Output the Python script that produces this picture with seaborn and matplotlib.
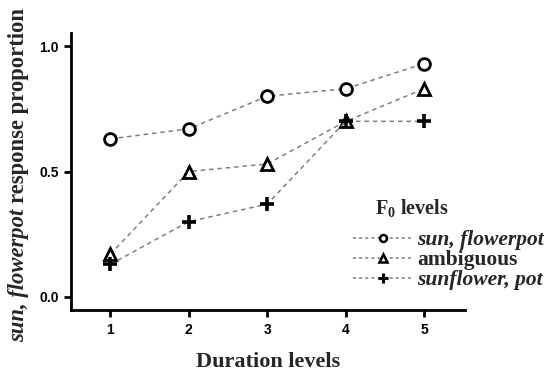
import matplotlib
matplotlib.use("Agg")
import matplotlib.pyplot as plt
import seaborn as sns
import pandas as pd
from matplotlib.lines import Line2D

durations = [1, 2, 3, 4, 5]
sun_flowerpot = [0.63, 0.67, 0.80, 0.83, 0.93]
ambiguous = [0.17, 0.50, 0.53, 0.70, 0.83]
sunflower_pot = [0.13, 0.30, 0.37, 0.70, 0.70]
y_ticks = [0.0, 0.5, 1.0]
y_tick_labels = ["0.0", "0.5", "1.0"]
series_names = ["sun, flowerpot", "ambiguous", "sunflower, pot"]

sns.set_theme(style="ticks")
plt.rcParams["font.family"] = ["Liberation Sans", "DejaVu Sans"]
plt.rcParams["mathtext.fontset"] = "custom"
plt.rcParams["mathtext.it"] = "Liberation Serif:italic:bold"
plt.rcParams["mathtext.rm"] = "Liberation Serif:bold"
plt.rcParams["mathtext.bf"] = "Liberation Serif:bold"

W, H = 544, 374
fig = plt.figure(figsize=(W/100, H/100), dpi=100)
ax = fig.add_axes([71/W, 1-310/H, (465-71)/W, (310-33)/H])

markers = {"sun, flowerpot": "o", "ambiguous": "^", "sunflower, pot": "+"}
values = {"sun, flowerpot": sun_flowerpot, "ambiguous": ambiguous,
          "sunflower, pot": sunflower_pot}
for name in series_names:
    df = pd.DataFrame({"x": durations, "y": values[name]})
    mk = markers[name]
    kw = dict(color="#808080", linestyle=(0, (3, 2.5)), linewidth=1.1,
              marker=mk, markeredgecolor="black", legend=False)
    if mk == "+":
        kw.update(markersize=10, markeredgewidth=2.6)
    else:
        kw.update(markersize=8.5, markeredgewidth=2.0, markerfacecolor="white")
    sns.lineplot(data=df, x="x", y="y", ax=ax, **kw)

ax.set_xlim(0.5, 5.52)
ax.set_ylim(-0.052, 1.052)
ax.set_xticks(durations)
ax.set_xticklabels([str(d) for d in durations], fontweight="bold", fontsize=10)
ax.set_yticks(y_ticks)
ax.set_yticklabels(y_tick_labels, fontweight="bold", fontsize=10)
for s in ["top", "right"]:
    ax.spines[s].set_visible(False)
for s in ["left", "bottom"]:
    ax.spines[s].set_linewidth(2)
    ax.spines[s].set_color("black")
ax.tick_params(axis="both", direction="out", length=5, width=2, colors="black", pad=4)

ax.set_xlabel("Duration levels", fontfamily="Liberation Serif", fontweight="bold",
              fontsize=16, labelpad=11)
ax.set_ylabel("")

# y label in two parts (italic + regular, both bold)
fig.canvas.draw()
renderer = fig.canvas.get_renderer()
xb = 24 / W
t1 = fig.text(xb, 1 - 342/H, "sun, flowerpot", rotation=90, rotation_mode="anchor",
              ha="left", va="baseline", fontfamily="Liberation Serif",
              fontweight="bold", fontstyle="italic", fontsize=16.3)
ext = t1.get_window_extent(renderer)
t2 = fig.text(xb, (ext.y1 + 6) / H, "response proportion", rotation=90,
              rotation_mode="anchor", ha="left", va="baseline",
              fontfamily="Liberation Serif", fontweight="bold", fontsize=16.3)

handles = [
    Line2D([], [], color="#808080", linestyle=(0, (2, 2)), linewidth=1.1,
           marker="o", markersize=5, markeredgewidth=1.8,
           markeredgecolor="black", markerfacecolor="white"),
    Line2D([], [], color="#808080", linestyle=(0, (2, 2)), linewidth=1.1,
           marker="^", markersize=5.5, markeredgewidth=1.8,
           markeredgecolor="black", markerfacecolor="white"),
    Line2D([], [], color="#808080", linestyle=(0, (2, 2)), linewidth=1.1,
           marker="+", markersize=7, markeredgewidth=2.2,
           markeredgecolor="black"),
]
leg = fig.legend(handles, series_names, loc="upper left",
                 bbox_to_anchor=(353/W, 1-230/H), frameon=False,
                 handlelength=2.8, handletextpad=0.2, labelspacing=0.0,
                 borderaxespad=0, borderpad=0,
                 prop={"family": "Liberation Serif", "weight": "bold", "size": 15.5})
for txt, name in zip(leg.get_texts(), series_names):
    if "," in name:
        txt.set_fontstyle("italic")

fig.text(375/W, 1-208/H, r"F$_{\mathbf{0}}$ levels", ha="left", va="center",
         fontfamily="Liberation Serif", fontweight="bold", fontsize=14.5)

fig.savefig("out.png", dpi=100)
